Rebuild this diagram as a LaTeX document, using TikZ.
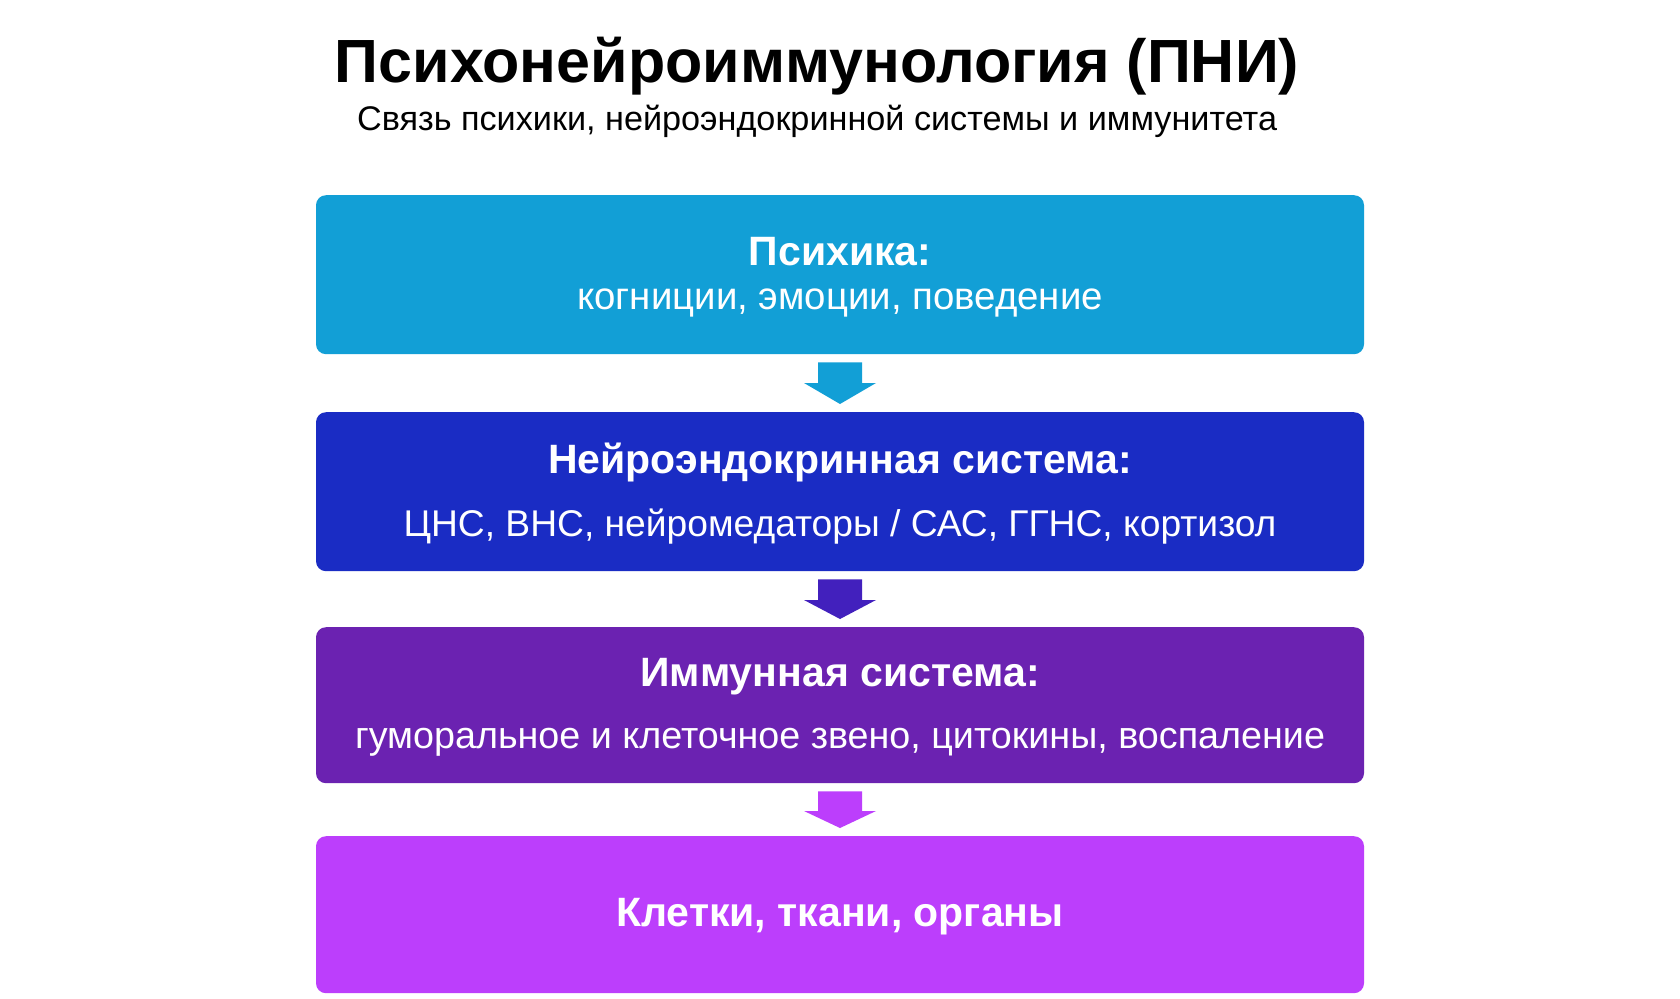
\documentclass[tikz,border=0pt]{standalone}
\usepackage{fontspec}
\setmainfont{Liberation Sans}
\usetikzlibrary{calc}
\definecolor{cone}{HTML}{129FD6}
\definecolor{ctwo}{HTML}{1A2CC4}
\definecolor{carrowtwo}{HTML}{4220BD}
\definecolor{cthree}{HTML}{6B22B1}
\definecolor{cfour}{HTML}{BC3EFC}
\newcommand\blkarrow[4]{% from, to, colour, head height
  \fill[#3] ($(#1.south)+(-22,8)$) -- ($(#1.south)+(22,8)$) -- ($(#2.north)+(22,-8-#4)$) -- ($(#2.north)+(36,-8-#4)$) -- ($(#2.north)+(0,-8)$) -- ($(#2.north)+(-36,-8-#4)$) -- ($(#2.north)+(-22,-8-#4)$) -- cycle;}
\begin{document}
\begin{tikzpicture}[x=1pt,y=-1pt,
  panel/.style={fill=#1, draw=none, rounded corners=10pt, minimum width=1048pt, inner sep=0pt, anchor=north},
  headtxt/.style={anchor=base, text=white, font=\fontsize{41}{49}\selectfont\bfseries, inner sep=0pt},
  bodytxt/.style={anchor=base, text=white, font=\fontsize{37.5}{45}\selectfont, inner sep=0pt}]
\useasboundingbox[fill=white] (0,0) rectangle (1680,998);
\node[anchor=base, inner sep=0pt, font=\fontsize{61}{70}\selectfont\bfseries] (title) at (817,82) {Психонейроиммунология (ПНИ)};
\node[anchor=base, inner sep=0pt, font=\fontsize{34.2}{40}\selectfont] (subtitle) at (817,130) {Связь психики, нейроэндокринной системы и иммунитета};
\node[panel=cone, minimum height=159pt] (b1) at (840,195) {};
\node[panel=ctwo, minimum height=159pt] (b2) at (840,412) {};
\node[panel=cthree, minimum height=156pt] (b3) at (840,627) {};
\node[panel=cfour, minimum height=157pt] (b4) at (840,836) {};
\node[headtxt] (h1) at (840,265) {Психика:};
\node[bodytxt, font=\fontsize{38.4}{45}\selectfont] (t1) at (840,309) {когниции, эмоции, поведение};
\node[headtxt] (h2) at (840,473) {Нейроэндокринная система:};
\node[bodytxt, font=\fontsize{37.2}{45}\selectfont] (t2) at (840,536) {ЦНС, ВНС, нейромедаторы / САС, ГГНС, кортизол};
\node[headtxt] (h3) at (840,686) {Иммунная система:};
\node[bodytxt, font=\fontsize{37.7}{45}\selectfont] (t3) at (840,748) {гуморальное и клеточное звено, цитокины, воспаление};
\node[headtxt] (h4) at (840,926) {Клетки, ткани, органы};
\blkarrow{b1}{b2}{cone}{21}
\blkarrow{b2}{b3}{carrowtwo}{19}
\blkarrow{b3}{b4}{cfour}{17}
\end{tikzpicture}
\end{document}
